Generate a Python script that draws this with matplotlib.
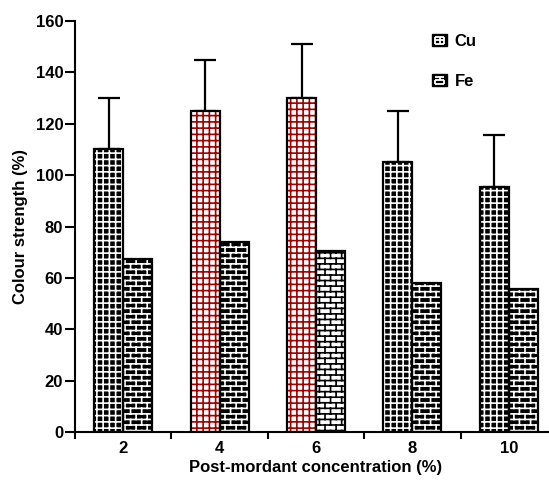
import warnings
warnings.filterwarnings('ignore')
import numpy as np
import matplotlib
matplotlib.use('Agg')
import matplotlib.pyplot as plt
from matplotlib import hatch as mhatch
from matplotlib.patches import Patch, Rectangle
from matplotlib.lines import Line2D
from matplotlib.path import Path
from matplotlib.legend_handler import HandlerBase

# ---- data ----
categories = ['2', '4', '6', '8', '10']
cu_values = [110, 125, 130, 105, 95.5]
cu_errors = [20, 20, 21, 20, 20]
fe_values = [67.5, 74, 70.5, 58, 55.5]
series_names = ['Cu', 'Fe']

cu_face = ['black', 'white', 'white', 'black', 'black']
cu_hatch_col = ['white', '#a00000', '#a00000', 'white', 'white']
fe_face = ['black', 'black', 'white', 'black', 'black']
fe_hatch_col = ['white', 'white', 'black', 'white', 'white']


# ---- custom brick hatch ('b') ----
class BrickHatch(mhatch.HatchPatternBase):
    def __init__(self, hatch, density):
        self.rows = 18 if 'b' in hatch else 0
        self.cols = 9
        if self.rows:
            self.num_vertices = self.rows * 2 + (self.rows + 1) * self.cols * 2
        else:
            self.num_vertices = 0

    def set_vertices_and_codes(self, vertices, codes):
        r, c = self.rows, self.cols
        ys = (np.arange(r) + 0.5) / r
        vertices[0:2 * r:2, 0] = 0.0
        vertices[0:2 * r:2, 1] = ys
        vertices[1:2 * r:2, 0] = 1.0
        vertices[1:2 * r:2, 1] = ys
        codes[0:2 * r:2] = Path.MOVETO
        codes[1:2 * r:2] = Path.LINETO
        k = 2 * r
        for i in range(-1, r):
            y0 = (i + 0.5) / r
            y1 = (i + 1.5) / r
            off = (0.5 * (i % 2) + 0.25) / c
            for j in range(c):
                xx = j / c + off
                vertices[k] = (xx, y0)
                vertices[k + 1] = (xx, y1)
                codes[k] = Path.MOVETO
                codes[k + 1] = Path.LINETO
                k += 2


# ---- custom fine grid hatch ('g') ----
class GridHatch(mhatch.HatchPatternBase):
    def __init__(self, hatch, density):
        self.n = 16 if 'g' in hatch else 0
        self.num_vertices = self.n * 4

    def set_vertices_and_codes(self, vertices, codes):
        n = self.n
        s = (np.arange(n) + 0.5) / n
        vertices[0:2 * n:2, 0] = 0.0
        vertices[0:2 * n:2, 1] = s
        vertices[1:2 * n:2, 0] = 1.0
        vertices[1:2 * n:2, 1] = s
        vertices[2 * n::2, 0] = s
        vertices[2 * n::2, 1] = 0.0
        vertices[2 * n + 1::2, 0] = s
        vertices[2 * n + 1::2, 1] = 1.0
        codes[0::2] = Path.MOVETO
        codes[1::2] = Path.LINETO


mhatch._hatch_types.append(BrickHatch)
mhatch._hatch_types.append(GridHatch)


# ---- legend icon handler ----
class IconHandler(HandlerBase):
    def __init__(self, kind):
        super().__init__()
        self.kind = kind

    def create_artists(self, legend, orig_handle, xdescent, ydescent,
                       width, height, fontsize, trans):
        x0, y0 = -xdescent, -ydescent
        arts = [Rectangle((x0, y0), width, height, facecolor='black',
                          edgecolor='black', linewidth=1.0, transform=trans)]

        def seg(a, b, c, d):
            return Line2D([x0 + a * width, x0 + c * width],
                          [y0 + b * height, y0 + d * height],
                          color='white', linewidth=1.3, transform=trans,
                          solid_capstyle='butt')
        if self.kind == 'grid':
            for yy in (0.22, 0.5, 0.78):
                arts.append(seg(0.2, yy, 0.8, yy))
            for xx in (0.2, 0.5, 0.8):
                arts.append(seg(xx, 0.22, xx, 0.78))
        else:
            for yy in (0.22, 0.5, 0.78):
                arts.append(seg(0.2, yy, 0.8, yy))
            arts.append(seg(0.5, 0.5, 0.5, 0.78))
            arts.append(seg(0.2, 0.22, 0.2, 0.5))
            arts.append(seg(0.8, 0.22, 0.8, 0.5))
        return arts


plt.rcParams['font.family'] = ['Liberation Sans', 'DejaVu Sans']
plt.rcParams['font.weight'] = 'bold'
plt.rcParams['hatch.linewidth'] = 1.2

fig = plt.figure(figsize=(5.49, 4.80), dpi=100)
ax = fig.add_axes([75 / 549, 48 / 480, 482 / 549, 411 / 480])

x = np.arange(len(categories))
w = 0.3
grid_hatch = 'g'
brick_hatch = 'b'

for i in range(len(categories)):
    ax.bar(x[i] - w / 2, cu_values[i], w, facecolor=cu_face[i],
           edgecolor=cu_hatch_col[i], hatch=grid_hatch, linewidth=0, zorder=2)
    ax.bar(x[i] + w / 2, fe_values[i], w, facecolor=fe_face[i],
           edgecolor=fe_hatch_col[i], hatch=brick_hatch, linewidth=0, zorder=2)

ax.bar(x - w / 2, cu_values, w, fill=False, edgecolor='black', linewidth=1.6, zorder=3)
ax.bar(x + w / 2, fe_values, w, fill=False, edgecolor='black', linewidth=1.6, zorder=3)

ax.errorbar(x - w / 2, cu_values, yerr=[np.zeros(len(cu_errors)), cu_errors],
            fmt='none', ecolor='black', elinewidth=1.6, capsize=8,
            capthick=1.6, zorder=1)

ax.set_xlim(-0.5, len(categories) - 0.5)
ax.set_ylim(0, 160)
ax.set_yticks(np.arange(0, 161, 20))
ax.set_xticks(x)
ax.set_xticklabels(categories)
ax.set_xticks(np.arange(-0.5, len(categories), 1.0), minor=True)

ax.spines['top'].set_visible(False)
ax.spines['right'].set_visible(False)
ax.spines['left'].set_linewidth(1.5)
ax.spines['bottom'].set_linewidth(1.5)

ax.tick_params(axis='x', which='major', length=0, pad=6.5, labelsize=12)
ax.tick_params(axis='x', which='minor', length=5, width=1.5, direction='out')
ax.tick_params(axis='y', length=7, width=1.5, labelsize=12, pad=1.5)

ax.set_xlabel('Post-mordant concentration (%)', fontsize=12, fontweight='bold', labelpad=3)
ax.set_ylabel('Colour strength (%)', fontsize=12, fontweight='bold', labelpad=5.5)

h_cu = Patch(facecolor='black')
h_fe = Patch(facecolor='black')
fig.legend([h_cu, h_fe], series_names, loc='upper left',
           bbox_to_anchor=(432 / 549, 1 - 34 / 480), frameon=False,
           handler_map={h_cu: IconHandler('grid'), h_fe: IconHandler('brick')},
           handlelength=0.9, handleheight=0.75, handletextpad=0.45,
           labelspacing=1.5, borderpad=0, borderaxespad=0,
           prop={'size': 12, 'weight': 'bold'})

fig.savefig('out.png', dpi=100)
